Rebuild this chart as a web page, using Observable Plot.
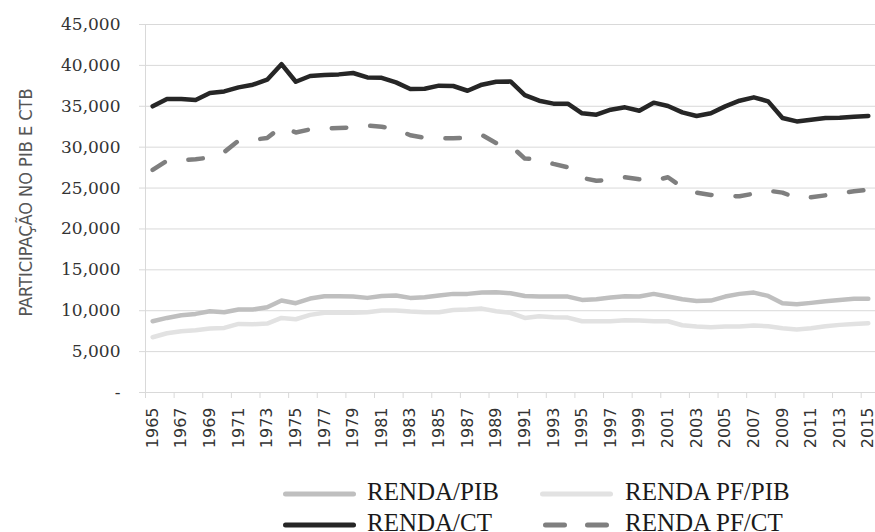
<!DOCTYPE html>
<html>
<head>
<meta charset="utf-8">
<script src="https://cdn.jsdelivr.net/npm/d3@7"></script>
<script src="https://cdn.jsdelivr.net/npm/@observablehq/plot@0.6"></script>
<style>
  body { margin: 0; background: #fff; }
  #wrap { position: relative; width: 875px; height: 532px; overflow: hidden; }
  .item { position: absolute; display: flex; align-items: center; height: 31px;
          font-family: "Liberation Serif", serif; font-size: 25px; color: #1a1a1a; white-space: nowrap; }
  .item svg { display: block; }
  .item span { position: relative; top: -2px; }
</style>
</head>
<body>
<div id="wrap"></div>
<script>
// ---- data ----
const years = [1965,1966,1967,1968,1969,1970,1971,1972,1973,1974,
  1975,1976,1977,1978,1979,1980,1981,1982,1983,1984,
  1985,1986,1987,1988,1989,1990,1991,1992,1993,1994,
  1995,1996,1997,1998,1999,2000,2001,2002,2003,2004,
  2005,2006,2007,2008,2009,2010,2011,2012,2013,2014,2015];

const rendaPib = [8710,9120,9450,9610,9940,9810,10140,10140,10430,11240,
  10920,11490,11770,11770,11730,11570,11810,11850,11570,11650,
  11850,12060,12060,12220,12260,12140,11810,11730,11730,11730,
  11320,11400,11610,11770,11730,12060,11730,11400,11200,11240,
  11730,12060,12220,11810,10920,10790,10960,11160,11320,11450,11450];

const rendaPfPib = [6760,7250,7490,7610,7820,7900,8390,8350,8430,9120,
  8960,9490,9740,9740,9740,9820,10020,10020,9900,9820,
  9820,10100,10140,10260,9940,9740,9120,9330,9200,9160,
  8710,8710,8710,8830,8790,8710,8710,8220,8070,7980,
  8070,8070,8190,8100,7860,7700,7860,8100,8270,8390,8470];

const rendaCt = [35000,35890,35900,35770,36620,36820,37310,37640,38250,40150,
  38000,38700,38820,38900,39070,38530,38480,37920,37110,37150,
  37520,37480,36900,37640,38000,38040,36370,35680,35320,35320,
  34140,33970,34580,34870,34460,35440,35030,34250,33810,34140,
  34990,35680,36090,35600,33570,33150,33360,33570,33610,33730,33810];

const rendaPfCt = [27210,28350,28400,28510,28750,29400,30790,30900,31120,32500,
  31800,32180,32300,32350,32420,32630,32500,32220,31450,31150,
  31100,31100,31120,31490,30500,30200,28600,28520,27950,27540,
  26240,25900,26000,26320,26070,25900,26320,25090,24440,24160,
  24050,23990,24320,24680,24440,23790,23870,24110,24360,24600,24810];

const yTicks = [0,5000,10000,15000,20000,25000,30000,35000,40000,45000];
const xLabelYears = [1965,1967,1969,1971,1973,1975,1977,1979,1981,1983,1985,1987,1989,
  1991,1993,1995,1997,1999,2001,2003,2005,2007,2009,2011,2013,2015];
const yLabel = "PARTICIPAÇÃO NO PIB E CTB";

const series = [
  {name: "RENDA PF/PIB", values: rendaPfPib, color: "#e2e2e2", dash: null},
  {name: "RENDA/PIB", values: rendaPib, color: "#bfbfbf", dash: null},
  {name: "RENDA PF/CT", values: rendaPfCt, color: "#7f7f7f", dash: "14.5,24"},
  {name: "RENDA/CT", values: rendaCt, color: "#262626", dash: null}
];
const legendOrder = ["RENDA/PIB", "RENDA PF/PIB", "RENDA/CT", "RENDA PF/CT"];

// ---- chart ----
const xDomain = [years[0] - 0.5, years[years.length - 1] + 0.5];
const xBounds = xLabelYears.map(y => y - 0.5);
const fmt = d3.format(",");

const chart = Plot.plot({
  width: 875,
  height: 460,
  marginLeft: 145,
  marginRight: 0,
  marginTop: 24,
  marginBottom: 68,
  x: {domain: xDomain},
  y: {domain: [0, 45000]},
  marks: [
    Plot.gridY(yTicks, {stroke: "#d9d9d9", strokeOpacity: 1, strokeWidth: 1}),
    Plot.ruleX([xDomain[0]], {stroke: "#d9d9d9", strokeWidth: 1}),
    Plot.axisY(yTicks, {label: null, tickSize: 6, tickPadding: 19, stroke: "#d9d9d9",
      fill: "#333", fontFamily: "DejaVu Serif", fontSize: 17,
      tickFormat: d => d === 0 ? "-" : fmt(d)}),
    Plot.axisX(xBounds, {label: null, tickSize: 6, stroke: "#d9d9d9", tickFormat: () => ""}),
    Plot.axisX(xLabelYears, {label: null, tickSize: 0, tickPadding: 15, tickRotate: -90,
      fill: "#333", fontFamily: "DejaVu Sans", fontSize: 16, tickFormat: d => String(d)}),
    ...series.map(s => Plot.line(years, {
      x: d => d,
      y: (d, i) => s.values[i],
      stroke: s.color,
      strokeWidth: 4.5,
      strokeDasharray: s.dash,
      strokeLinecap: "round",
      strokeLinejoin: "round"
    })),
    Plot.text([yLabel], {frameAnchor: "left", textAnchor: "middle", lineAnchor: "middle",
      text: d => d, rotate: -90, dx: -119, dy: -6,
      fontFamily: "DejaVu Sans Condensed", fontSize: 18, fill: "#555"})
  ]
});

const wrap = document.getElementById("wrap");
wrap.appendChild(chart);

// ---- legend ----
const pos = [
  {left: 283, top: 478, gap: 11},
  {left: 540, top: 478, gap: 12},
  {left: 283, top: 509, gap: 11},
  {left: 540, top: 509, gap: 12}
];
legendOrder.forEach((name, k) => {
  const s = series.find(d => d.name === name);
  const p = pos[k];
  const div = document.createElement("div");
  div.className = "item";
  div.style.left = p.left + "px";
  div.style.top = p.top + "px";
  const x1 = s.dash ? 5.5 : 2.5;
  div.innerHTML = `<svg width="73" height="12"><line x1="${x1}" x2="70.5" y1="6" y2="6" stroke="${s.color}" stroke-width="5" stroke-linecap="round" ${s.dash ? 'stroke-dasharray="19,23"' : ''}></line></svg><span style="margin-left:${p.gap}px">${name}</span>`;
  wrap.appendChild(div);
});
</script>
</body>
</html>
